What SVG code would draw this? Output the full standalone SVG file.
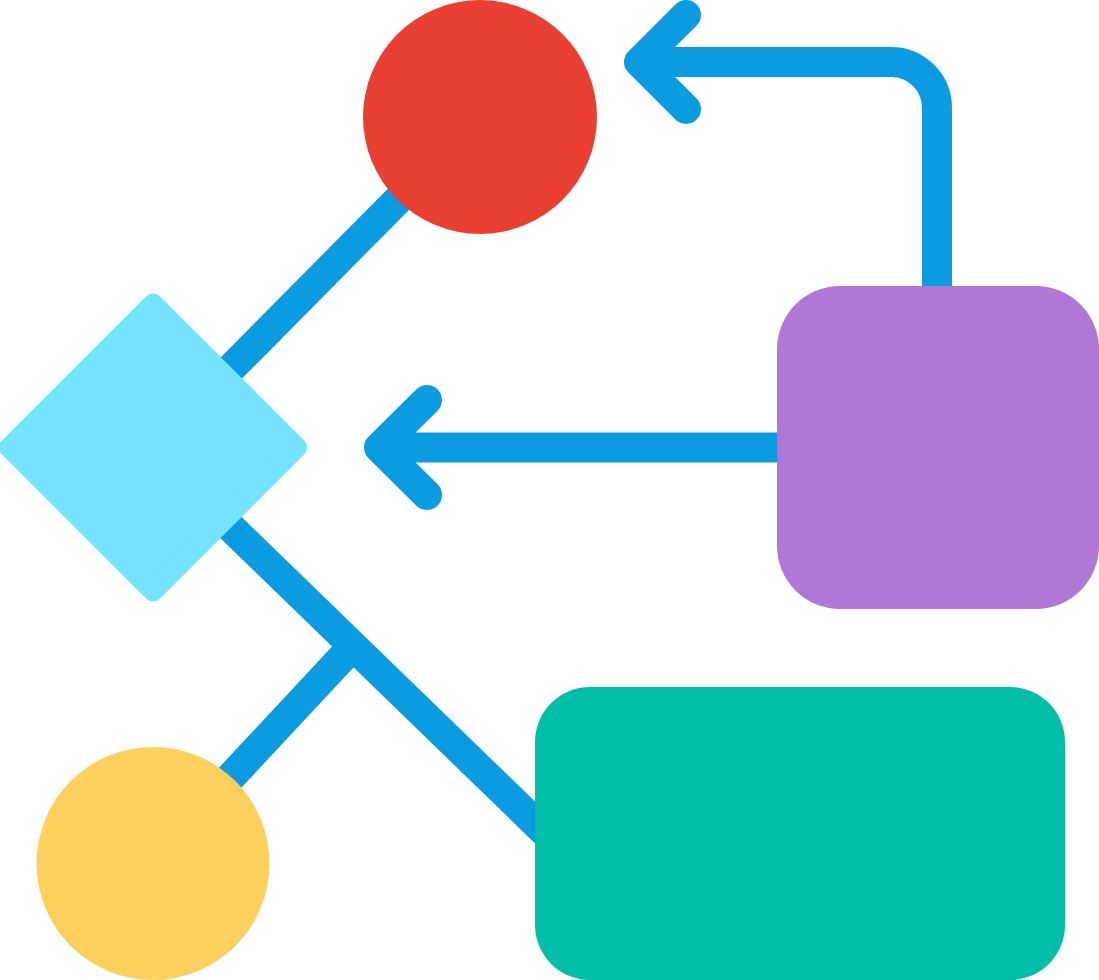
<svg xmlns="http://www.w3.org/2000/svg" width="1099" height="980" viewBox="0 0 1099 980">
<style>
.conn{fill:none;stroke:#0A9BE0;stroke-width:30}
.arrow{stroke-linecap:round;stroke-linejoin:round}
</style>
<rect width="1099" height="980" fill="#FFFFFF"/>
<g id="connectors">
<line class="conn" x1="153" y1="447" x2="480" y2="117"/>
<line class="conn" x1="153" y1="452" x2="550" y2="837"/>
<line class="conn" x1="353" y1="646" x2="200" y2="810"/>
<line class="conn" x1="800" y1="447.5" x2="385" y2="447.5"/>
<path class="conn arrow" d="M427 400 L379 447.5 L427 495"/>
<path class="conn" d="M937 300 V108 A46 46 0 0 0 891 62 H645"/>
<path class="conn arrow" d="M686 15 L639 62 L686 109"/>
</g>
<g id="node-red"><circle cx="480" cy="117" r="117" fill="#EA4034"/></g>
<g id="node-diamond"><polygon points="9,447.5 153,303.5 297,447.5 153,591.5" fill="#74E3FD" stroke="#74E3FD" stroke-width="20" stroke-linejoin="round"/></g>
<g id="node-yellow"><circle cx="153" cy="863.5" r="116.5" fill="#FDD05E"/></g>
<g id="node-purple"><rect x="777" y="286" width="322" height="323" rx="63" fill="#B077D7"/></g>
<g id="node-teal"><rect x="535" y="687" width="530" height="293" rx="55" fill="#00BEA7"/></g>
</svg>
